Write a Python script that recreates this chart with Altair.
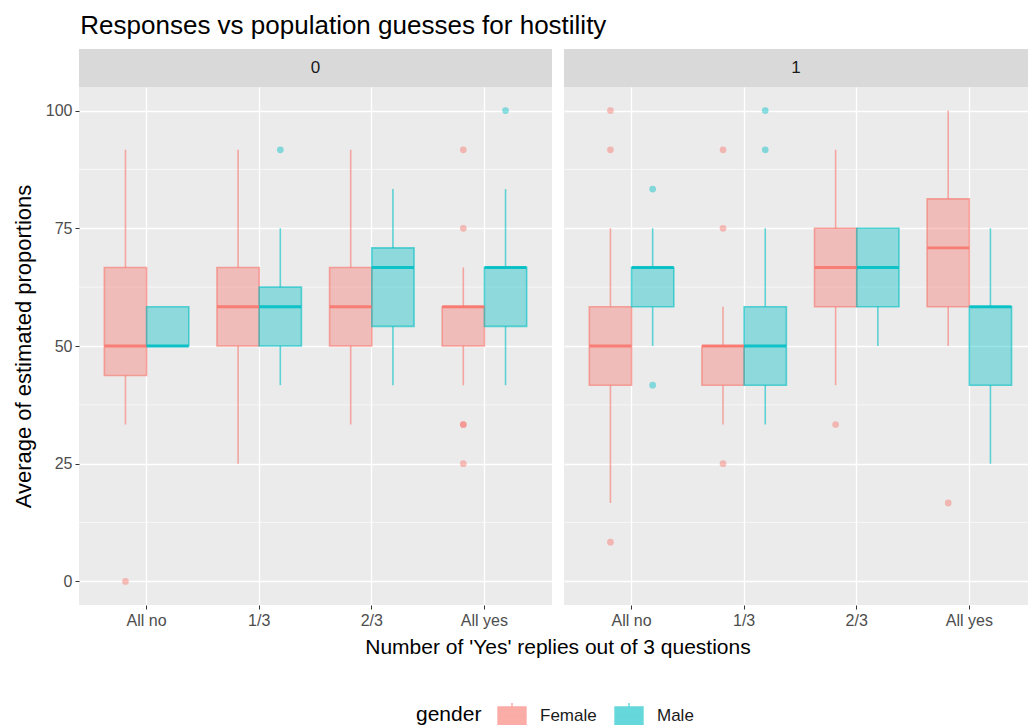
import altair as alt
import pandas as pd

# ---- data ----
cats = ["All no", "1/3", "2/3", "All yes"]
genders = ["Female", "Male"]

box_panel = [0] * 8 + [1] * 8
box_cat = ["All no", "All no", "1/3", "1/3", "2/3", "2/3", "All yes", "All yes"] * 2
box_gender = ["Female", "Male"] * 8
box_lo = [33.33, 50, 25, 41.67, 33.33, 41.67, 41.67, 41.67,
          16.67, 50, 33.33, 33.33, 41.67, 50, 50, 25]
box_q1 = [43.75, 50, 50, 50, 50, 54.17, 50, 54.17,
          41.67, 58.33, 41.67, 41.67, 58.33, 58.33, 58.33, 41.67]
box_med = [50, 50, 58.33, 58.33, 58.33, 66.67, 58.33, 66.67,
           50, 66.67, 50, 50, 66.67, 66.67, 70.83, 58.33]
box_q3 = [66.67, 58.33, 66.67, 62.5, 66.67, 70.83, 58.33, 66.67,
          58.33, 66.67, 50, 58.33, 75, 75, 81.25, 58.33]
box_hi = [91.67, 58.33, 91.67, 75, 91.67, 83.33, 66.67, 83.33,
          75, 75, 58.33, 75, 91.67, 75, 100, 75]

out_panel = [0, 0, 0, 0, 0, 0, 0, 0,
             1, 1, 1, 1, 1, 1, 1, 1, 1, 1, 1, 1]
out_cat = ["All no", "1/3", "All yes", "All yes", "All yes", "All yes", "All yes", "All yes",
           "All no", "All no", "All no", "All no", "All no", "1/3", "1/3", "1/3", "1/3", "1/3",
           "2/3", "All yes"]
out_gender = ["Female", "Male", "Female", "Female", "Female", "Female", "Female", "Male",
              "Female", "Female", "Female", "Male", "Male", "Female", "Female", "Female", "Male", "Male",
              "Female", "Female"]
out_val = [0, 91.67, 91.67, 75, 33.33, 33.33, 25, 100,
           100, 91.67, 8.33, 83.33, 41.67, 91.67, 75, 25, 100, 91.67,
           33.33, 16.67]

minor_vals = [12.5, 37.5, 62.5, 87.5]
y_ticks = [0, 25, 50, 75, 100]

boxes = pd.DataFrame({"panel": box_panel, "cat": box_cat, "gender": box_gender,
                      "lo": box_lo, "q1": box_q1, "med": box_med, "q3": box_q3, "hi": box_hi})
outs = pd.DataFrame({"panel": out_panel, "cat": out_cat, "gender": out_gender, "val": out_val})

W0 = 473
W1 = 464
H = 518
FONT = "Liberation Sans"
COLORS = ["#F8766D", "#00BFC4"]
BOX_PATH = "M-0.82,-0.53H0.82V0.53H-0.82Z M-0.82,0H0.82 M0,-0.53V-0.76 M0,0.53V0.76"

yscale = alt.Scale(domain=[-5, 105], nice=False, zero=False)
cscale = alt.Scale(domain=genders, range=COLORS)
off = alt.XOffset("gender:N", sort=genders, scale=alt.Scale(domain=genders, paddingInner=0))

LEG = alt.Legend(title="gender", orient="none", legendX=337, legendY=611, direction="horizontal",
                 titleOrient="left", titleFont=FONT, titleFontSize=21, titleFontWeight="normal",
                 titleColor="black", labelFont=FONT, labelFontSize=17, labelColor="#1A1A1A",
                 symbolType=BOX_PATH, symbolSize=1156, symbolStrokeWidth=1.5,
                 columnPadding=14, labelOffset=10, titlePadding=12)


def panel(p, first, W, xscale):
    xaxis = alt.Axis(title=None, labelAngle=0, bandPosition=0.5, grid=True, gridColor="white",
                     gridWidth=1.3, domain=False, tickColor="#333333", tickSize=4,
                     labelColor="#4D4D4D", labelFontSize=16, labelFont=FONT, labelPadding=3)
    if first:
        yaxis = alt.Axis(title="Average of estimated proportions", values=y_ticks, grid=True,
                         gridColor="white", gridWidth=1.3, domain=False, tickColor="#333333",
                         tickSize=4, labelColor="#4D4D4D", labelFontSize=16, labelFont=FONT,
                         labelPadding=3, titleFont=FONT, titleFontSize=22, titleFontWeight="normal",
                         titleColor="black", titlePadding=10)
    else:
        yaxis = alt.Axis(title=None, values=y_ticks, grid=True, gridColor="white", gridWidth=1.3,
                         domain=False, ticks=False, labels=False)

    bd = boxes[boxes["panel"] == p]
    od = outs[outs["panel"] == p]
    X = alt.X("cat:N", sort=cats, scale=xscale, axis=xaxis)
    C = alt.Color("gender:N", scale=cscale, legend=LEG)

    lab = pd.DataFrame({"label": [str(p)]})
    strip = alt.Chart(lab).mark_rect(color="#D9D9D9").encode(
        x=alt.value(0), x2=alt.value(W), y=alt.value(-38), y2=alt.value(0))
    strip_t = alt.Chart(lab).mark_text(
        font=FONT, fontSize=17, color="#1A1A1A", baseline="middle").encode(
        x=alt.value(W / 2), y=alt.value(-19), text="label:N")

    minor = alt.Chart(pd.DataFrame({"v": minor_vals})).mark_rule(
        color="white", strokeWidth=0.6).encode(y=alt.Y("v:Q", scale=yscale, axis=yaxis))

    whisk_lo = alt.Chart(bd).mark_rule(strokeWidth=1.6, opacity=0.6).encode(
        x=X, xOffset=off, y=alt.Y("lo:Q", scale=yscale, axis=yaxis), y2="q1:Q", color=C)
    whisk_hi = alt.Chart(bd).mark_rule(strokeWidth=1.6, opacity=0.6).encode(
        x=X, xOffset=off, y=alt.Y("q3:Q", scale=yscale, axis=yaxis), y2="hi:Q", color=C)
    box_fill = alt.Chart(bd).mark_bar(opacity=0.4).encode(
        x=X, xOffset=off, y=alt.Y("q1:Q", scale=yscale, axis=yaxis), y2="q3:Q", color=C)
    box_line = alt.Chart(bd).mark_bar(filled=False, strokeWidth=1.6, opacity=0.6).encode(
        x=X, xOffset=off, y=alt.Y("q1:Q", scale=yscale, axis=yaxis), y2="q3:Q", color=C)
    med = alt.Chart(bd).mark_tick(thickness=2.8, size=42, opacity=0.9).encode(
        x=X, xOffset=off, y=alt.Y("med:Q", scale=yscale, axis=yaxis), color=C)
    pts = alt.Chart(od).mark_circle(size=45, opacity=0.45).encode(
        x=X, xOffset=off, y=alt.Y("val:Q", scale=yscale, axis=yaxis), color=C)

    layers = [strip, strip_t, minor, whisk_lo, whisk_hi, box_fill, box_line, med, pts]
    if first:
        xt = alt.Chart(pd.DataFrame({"t": ["Number of 'Yes' replies out of 3 questions"]})).mark_text(
            font=FONT, fontSize=21, color="black", baseline="middle", align="center").encode(
            x=alt.value(W + 6), y=alt.value(H + 43), text="t:N")
        layers.append(xt)
    return alt.layer(*layers).properties(width=W, height=H)


xs0 = alt.Scale(domain=cats, paddingInner=0.25, paddingOuter=0.225)
xs1 = alt.Scale(domain=cats, paddingInner=0.25, paddingOuter=0.1855, align=0.606)

chart = alt.hconcat(panel(0, True, W0, xs0), panel(1, False, W1, xs1), spacing=12,
                    bounds="flush").resolve_scale(x="independent", y="independent").properties(
    title=alt.TitleParams("Responses vs population guesses for hostility", anchor="start",
                          font=FONT, fontSize=26, fontWeight="normal", color="black", dx=68, offset=10),
    padding={"left": 12, "top": 13, "right": 0, "bottom": 0}
).configure_view(fill="#EBEBEB", stroke=None)

chart.save("out.html", embed_options={"renderer": "svg", "actions": False})
